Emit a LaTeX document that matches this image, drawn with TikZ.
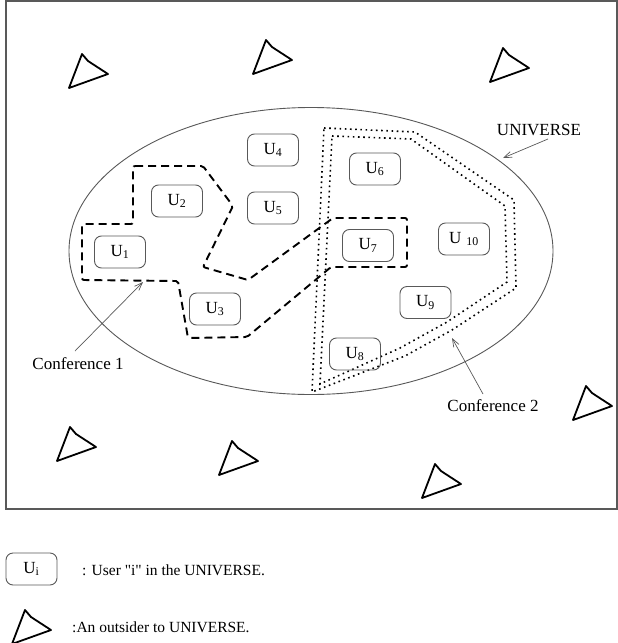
\documentclass[tikz,border=0pt]{standalone}
\usepackage{fontspec}
\setmainfont{Liberation Serif}
\newfontfamily\rawserif{Liberation Serif}
\usetikzlibrary{arrows.meta,shapes.geometric}
\begin{document}
\begin{tikzpicture}[x=1pt,y=-1pt,
  ubox/.style={draw=gray!70!black, line width=0.9pt, rounded corners=7pt, minimum width=51pt, minimum height=32pt, inner sep=0pt, font=\fontsize{17}{17}\selectfont},
  tristyle/.style={draw=black, line width=1.8pt, line join=round},
  confone/.style={draw=black, line width=1.9pt, dash pattern=on 8pt off 5pt, rounded corners=2pt},
  conftwo/.style={draw=black, line width=1.6pt, dash pattern=on 1.6pt off 3.6pt},
  lbl/.style={font=\fontsize{17}{17}\selectfont, inner sep=0pt},
  leglbl/.style={font=\rawserif\fontsize{15.5}{15.5}\selectfont, inner sep=0pt, anchor=west},
  pointer/.style={draw=gray!70!black, line width=0.7pt, -{Straight Barb[length=8pt,width=6pt]}},
  outsider/.pic={\draw[tristyle] (0,0) -- (6,7) -- (26,20) -- (-13,34) -- cycle;}
]
\useasboundingbox (0,0) rectangle (618,643);
\draw[gray!70!black, line width=1.6pt] (6,1) rectangle (617,509);
% universe
\node[ellipse, draw=gray!70!black, line width=0.9pt, minimum width=484pt, minimum height=287pt, inner sep=0pt] (universe) at (311,251) {};
% outsiders
\pic at (82,54) {outsider};
\pic at (266,40) {outsider};
\pic at (503,48) {outsider};
\pic at (586,386) {outsider};
\pic at (70,427) {outsider};
\pic at (232,441) {outsider};
\pic at (435,464) {outsider};
% conference 2 (double dotted)
\draw[conftwo] (324,128) -- (415,132) -- (514,200) -- (516,288) -- (452,330) -- (405,356) -- (312,392) -- cycle;
\draw[conftwo] (332,136) -- (411,139) -- (505,206) -- (507,282) -- (447,322) -- (400,348) -- (320,384) -- cycle;
% conference 1 (dashed)
\draw[confone] (133,166) -- (203,166) -- (233,206) -- (203,267) -- (248,280) -- (333,218) -- (407,218) -- (407,267) -- (331,267) -- (247,337) -- (188,338) -- (178,281) -- (82,280) -- (82,224) -- (133,224) -- cycle;
% users
\node[ubox] (u1) at (120,252) {U\textsubscript{1}};
\node[ubox] (u2) at (177,201) {U\textsubscript{2}};
\node[ubox] (u3) at (215,309) {U\textsubscript{3}};
\node[ubox] (u4) at (273,150) {U\textsubscript{4}};
\node[ubox] (u5) at (273,208) {U\textsubscript{5}};
\node[ubox] (u6) at (375,169) {U\textsubscript{6}};
\node[ubox] (u7) at (368,245.5) {U\textsubscript{7}};
\node[ubox] (u8) at (355,354) {U\textsubscript{8}};
\node[ubox] (u9) at (425.5,302.5) {U\textsubscript{9}};
\node[ubox] (u10) at (464,239) {U\hspace{5pt}\textsubscript{10}};
% labels and pointers
\node[lbl] (univlbl) at (539,130) {UNIVERSE};
\coordinate (univstart) at (548,139);
\coordinate (univtip) at (503,158);
\draw[pointer] (univstart) -- (univtip);
\node[lbl] (conf1lbl) at (78,364) {Conference 1};
\coordinate (conf1start) at (75,351);
\coordinate (conf1tip) at (143,282);
\draw[pointer] (conf1start) -- (conf1tip);
\node[lbl] (conf2lbl) at (493,406) {Conference 2};
\coordinate (conf2start) at (483,394);
\coordinate (conf2tip) at (452,338);
\draw[pointer] (conf2start) -- (conf2tip);
% legend
\node[ubox] (ui) at (31.5,569) {U\textsubscript{i}};
\node[leglbl] (leg1) at (82,570) {: User "i" in the UNIVERSE.};
\pic at (25,610) {outsider};
\node[leglbl] (leg2) at (72,627) {:An outsider to UNIVERSE.};
\end{tikzpicture}
\end{document}
